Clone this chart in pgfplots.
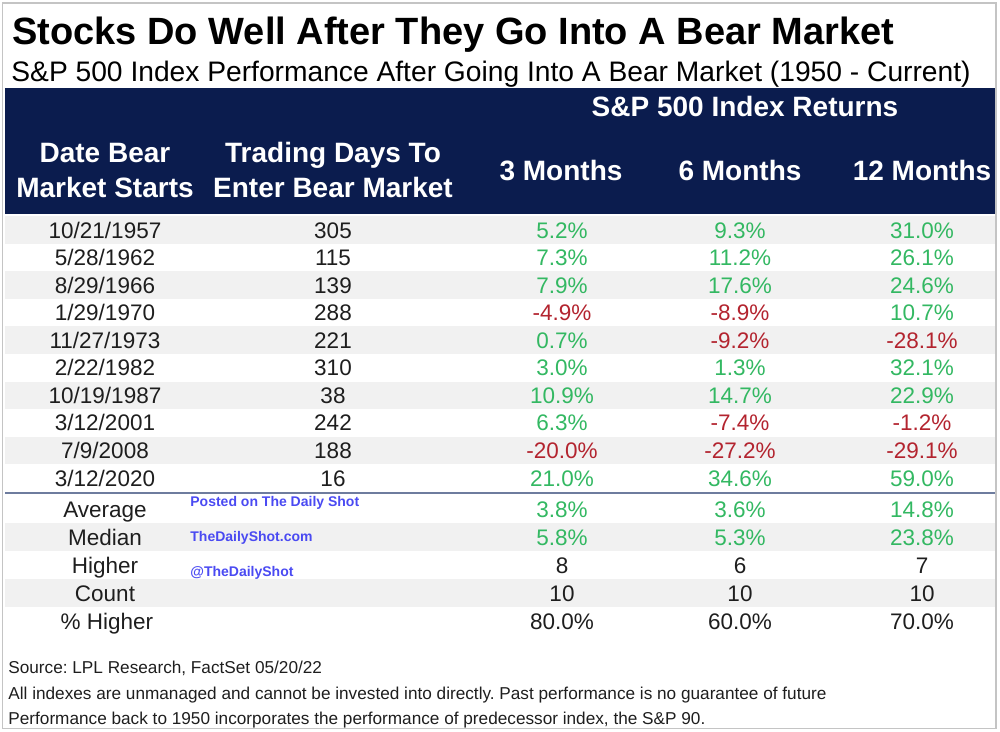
\documentclass[border=0pt]{standalone}
\usepackage{fontspec}
\setmainfont{Liberation Sans}
\usepackage{pgfplots}
\usepackage{pgfplotstable}
\pgfplotsset{compat=1.18}
\frenchspacing
\definecolor{navy}{HTML}{0B1C4E}
\definecolor{posg}{HTML}{33B862}
\definecolor{negr}{HTML}{B3242F}
\definecolor{stripe}{HTML}{F1F1F1}
\definecolor{sepline}{HTML}{6E7C9E}
\definecolor{framec}{HTML}{C4C4C4}
\definecolor{wm}{HTML}{4A4AF2}
\definecolor{txt}{HTML}{1E1E1E}
\newcommand\ret[1]{\ifdim#1pt<0pt\color{negr}\else\color{posg}\fi#1\%}

\pgfplotstableread{
date days m3 m6 m12
10/21/1957 305 5.2 9.3 31.0
5/28/1962 115 7.3 11.2 26.1
8/29/1966 139 7.9 17.6 24.6
1/29/1970 288 -4.9 -8.9 10.7
11/27/1973 221 0.7 -9.2 -28.1
2/22/1982 310 3.0 1.3 32.1
10/19/1987 38 10.9 14.7 22.9
3/12/2001 242 6.3 -7.4 -1.2
7/9/2008 188 -20.0 -27.2 -29.1
3/12/2020 16 21.0 34.6 59.0
}\bear
\pgfplotstableread{
m3 m6 m12
3.8 3.6 14.8
5.8 5.3 23.8
}\avgmed
\pgfplotstableread{
m3 m6 m12
8 6 7
10 10 10
}\counts
\pgfplotstableread{
m3 m6 m12
80.0 60.0 70.0
}\pcthigher

\pgfplotsset{
  cell/.style={forget plot, color=txt, draw=none, mark=none, nodes near coords,
    point meta=explicit symbolic,
    nodes near coords style={anchor=center, inner sep=0pt, text height=8.05pt,
      text depth=0pt, font=\fontsize{11.25}{13}\selectfont, text=txt}},
}

\begin{document}
\begin{tikzpicture}
\useasboundingbox (0,0) rectangle (500pt,366pt);
\begin{axis}[at={(0,0)}, anchor=south west,
  width=500pt, height=366pt, scale only axis,
  xmin=0, xmax=1000, ymin=0, ymax=732, y dir=reverse,
  hide axis, clip=false]
% frame, header band, stripes
\draw[framec, line width=0.8pt] (axis cs:2.5,3) rectangle (axis cs:996,728.5);
\fill[navy] (axis cs:5,88) rectangle (axis cs:995,214);
\fill[stripe] (axis cs:5,216.2) rectangle (axis cs:995,243.8);
\fill[stripe] (axis cs:5,271.3) rectangle (axis cs:995,298.9);
\fill[stripe] (axis cs:5,326.5) rectangle (axis cs:995,354.0);
\fill[stripe] (axis cs:5,381.6) rectangle (axis cs:995,409.1);
\fill[stripe] (axis cs:5,436.7) rectangle (axis cs:995,464.3);
\fill[stripe] (axis cs:5,523) rectangle (axis cs:995,551);
\fill[stripe] (axis cs:5,579) rectangle (axis cs:995,607);
\draw[sepline, line width=1.2pt] (axis cs:5,493) -- (axis cs:995,493);

% titles
\node[anchor=base west, inner sep=0pt, font=\fontsize{19}{22}\selectfont\bfseries] at (axis cs:12,45) {Stocks Do Well After They Go Into A Bear Market};
\node[anchor=base west, inner sep=0pt, font=\fontsize{14.1}{17}\selectfont] at (axis cs:11,82) {S\&P 500 Index Performance After Going Into A Bear Market (1950 - Current)};

% header
\begin{scope}[every node/.style={anchor=base, inner sep=0pt, text=white, font=\fontsize{14}{17}\selectfont\bfseries}]
\node at (axis cs:745,117) {S\&P 500 Index Returns};
\node at (axis cs:105,163) {Date Bear};
\node at (axis cs:105,198) {Market Starts};
\node at (axis cs:333,163) {Trading Days To};
\node at (axis cs:333,198) {Enter Bear Market};
\node at (axis cs:561,181) {3 Months};
\node at (axis cs:740,181) {6 Months};
\node at (axis cs:922,181) {12 Months};
\end{scope}

% body rows
\addplot[cell] table[x expr=105, y expr=230+27.56*\coordindex, meta=date] {\bear};
\addplot[cell] table[x expr=333, y expr=230+27.56*\coordindex, meta=days] {\bear};
\addplot[cell, nodes near coords={\ret{\pgfplotspointmeta}}] table[x expr=562, y expr=230+27.56*\coordindex, meta=m3] {\bear};
\addplot[cell, nodes near coords={\ret{\pgfplotspointmeta}}] table[x expr=740, y expr=230+27.56*\coordindex, meta=m6] {\bear};
\addplot[cell, nodes near coords={\ret{\pgfplotspointmeta}}] table[x expr=922, y expr=230+27.56*\coordindex, meta=m12] {\bear};

% summary labels
\begin{scope}[every node/.style={anchor=base, inner sep=0pt, text=txt, font=\fontsize{11.25}{13}\selectfont}]
\node at (axis cs:105,517) {Average};
\node at (axis cs:105,545) {Median};
\node at (axis cs:105,573) {Higher};
\node at (axis cs:105,601) {Count};
\node at (axis cs:107,629) {\% Higher};
\end{scope}

% summary values
\addplot[cell, nodes near coords={\ret{\pgfplotspointmeta}}] table[x expr=562, y expr=509+28*\coordindex, meta=m3] {\avgmed};
\addplot[cell, nodes near coords={\ret{\pgfplotspointmeta}}] table[x expr=740, y expr=509+28*\coordindex, meta=m6] {\avgmed};
\addplot[cell, nodes near coords={\ret{\pgfplotspointmeta}}] table[x expr=922, y expr=509+28*\coordindex, meta=m12] {\avgmed};
\addplot[cell] table[x expr=562, y expr=565+28*\coordindex, meta=m3] {\counts};
\addplot[cell] table[x expr=740, y expr=565+28*\coordindex, meta=m6] {\counts};
\addplot[cell] table[x expr=922, y expr=565+28*\coordindex, meta=m12] {\counts};
\addplot[cell, nodes near coords={\pgfplotspointmeta\%}] table[x expr=562, y expr=621, meta=m3] {\pcthigher};
\addplot[cell, nodes near coords={\pgfplotspointmeta\%}] table[x expr=740, y expr=621, meta=m6] {\pcthigher};
\addplot[cell, nodes near coords={\pgfplotspointmeta\%}] table[x expr=922, y expr=621, meta=m12] {\pcthigher};

% watermark
\begin{scope}[every node/.style={anchor=west, inner sep=0pt, text=wm, font=\fontsize{7}{8}\selectfont\bfseries}]
\node at (axis cs:190,503) {Posted on The Daily Shot};
\node at (axis cs:190,538) {TheDailyShot.com};
\node at (axis cs:190,573) {@TheDailyShot};
\end{scope}

% footer
\begin{scope}[every node/.style={anchor=base west, inner sep=0pt, text=txt, font=\fontsize{8.6}{10}\selectfont}]
\node at (axis cs:8,673) {Source: LPL Research, FactSet 05/20/22};
\node at (axis cs:8,699) {All indexes are unmanaged and cannot be invested into directly. Past performance is no guarantee of future};
\node at (axis cs:8,724) {Performance back to 1950 incorporates the performance of predecessor index, the S\&P 90.};
\end{scope}
\end{axis}
\end{tikzpicture}
\end{document}
